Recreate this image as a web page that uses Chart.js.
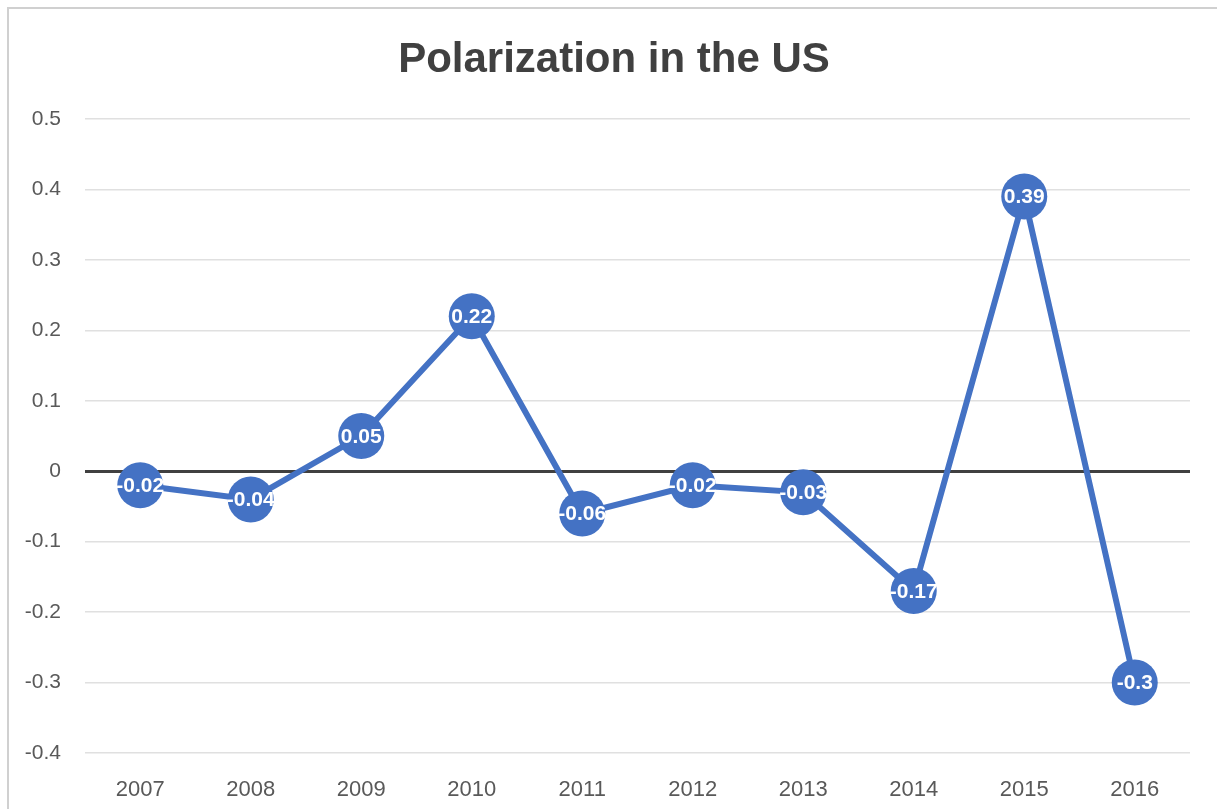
<!DOCTYPE html>
<html lang="en">
<head>
    <script src="https://cdn.jsdelivr.net/npm/chart.js"></script>
    <style>
        body { margin: 0; background: #fff; overflow: hidden; }
        #frame { position: absolute; left: 7px; top: 7px; width: 1400px; height: 1000px; border: 2px solid #d0d0d0; }
        #wrap { position: absolute; left: 0; top: 0; width: 1217px; height: 809px; }
    </style>
</head>
<body>
<div id="frame"></div>
<div id="wrap">
    <canvas id="myChart" width="1217" height="809"></canvas>
</div>
<script>
    const years = ['2007', '2008', '2009', '2010', '2011', '2012', '2013', '2014', '2015', '2016'];
    const polarization = [-0.02, -0.04, 0.05, 0.22, -0.06, -0.02, -0.03, -0.17, 0.39, -0.3];
    const yTicks = [0.5, 0.4, 0.3, 0.2, 0.1, 0, -0.1, -0.2, -0.3, -0.4];

    // draws the value inside each marker (no datalabels plugin offline)
    const pointLabels = {
        id: 'pointLabels',
        afterDatasetsDraw(chart) {
            const ctx = chart.ctx;
            const meta = chart.getDatasetMeta(0);
            ctx.save();
            ctx.fillStyle = '#ffffff';
            ctx.font = 'bold 21px "Liberation Sans", Arial, sans-serif';
            ctx.textAlign = 'center';
            ctx.textBaseline = 'middle';
            meta.data.forEach(function(pt, i) {
                ctx.fillText(String(polarization[i]), pt.x, pt.y + 1);
            });
            ctx.restore();
        }
    };

    const ctx = document.getElementById('myChart');
    const myChart = new Chart(ctx, {
        type: 'line',
        data: {
            labels: years,
            datasets: [{
                label: 'Polarization',
                data: polarization,
                borderColor: '#4472C4',
                backgroundColor: '#4472C4',
                borderWidth: 6,
                pointRadius: 23,
                pointBorderWidth: 0,
                pointBackgroundColor: '#4472C4',
                tension: 0
            }]
        },
        options: {
            responsive: false,
            animation: false,
            layout: { padding: { left: 11, right: 0, top: 0, bottom: 0 } },
            plugins: {
                legend: { display: false },
                tooltip: { enabled: false },
                title: {
                    display: true,
                    text: 'Polarization in the US',
                    color: '#404040',
                    font: { family: '"Liberation Sans", Arial, sans-serif', size: 42, weight: 'bold', lineHeight: 1.2 },
                    padding: { top: 35, bottom: 33.6 }
                }
            },
            scales: {
                x: {
                    offset: true,
                    grid: { display: false },
                    border: { display: false },
                    ticks: {
                        color: '#595959',
                        font: { family: '"Liberation Sans", Arial, sans-serif', size: 22 },
                        padding: 16
                    },
                    afterFit: function(scale) { scale.height = 56; }
                },
                y: {
                    min: -0.4,
                    max: 0.5,
                    afterBuildTicks: function(scale) {
                        scale.ticks = yTicks.map(v => ({ value: v }));
                    },
                    grid: {
                        drawTicks: false,
                        color: c => c.tick && c.tick.value === 0 ? '#404040' : '#e0e0e0',
                        lineWidth: c => c.tick && c.tick.value === 0 ? 3 : 1.5
                    },
                    border: { display: false },
                    ticks: {
                        color: '#595959',
                        font: { family: '"Liberation Sans", Arial, sans-serif', size: 21 },
                        padding: 24,
                        callback: v => String(Math.round(v * 10) / 10)
                    },
                    afterFit: function(scale) { scale.width = 74; }
                },
                // empty right axis, only keeps a margin on the right side
                yRight: {
                    position: 'right',
                    min: -0.4,
                    max: 0.5,
                    grid: { display: false },
                    border: { display: false },
                    ticks: { display: false },
                    afterFit: function(scale) { scale.width = 27; }
                }
            }
        },
        plugins: [pointLabels]
    });
</script>
</body>
</html>
